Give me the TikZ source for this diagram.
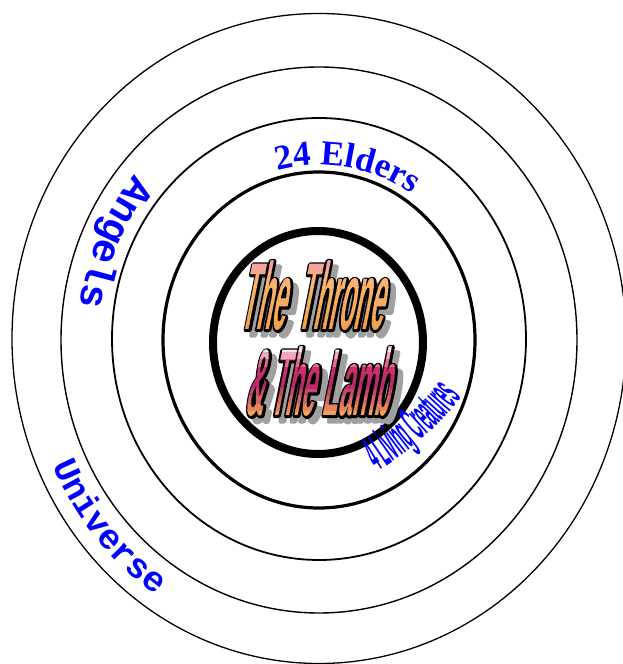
\documentclass[tikz,border=0pt]{standalone}
\usepackage{fontspec}
\usetikzlibrary{decorations.text}
\newfontfamily\thronefont{Liberation Sans}[FakeStretch=0.265,FakeSlant=0.2]
\newfontfamily\angelfont{Liberation Mono}
\newfontfamily\elderfont{Liberation Serif}
\newfontfamily\creafont{Liberation Sans}[FakeStretch=0.26]
\definecolor{pinkA}{HTML}{F4A0A8}
\definecolor{orA}{HTML}{FAB56C}
\definecolor{orB}{HTML}{F0A050}
\definecolor{pinkL}{HTML}{FFE4E4}
\definecolor{magA}{HTML}{D8306E}
\definecolor{magB}{HTML}{B82A6A}
\definecolor{orC}{HTML}{F2A25A}
\definecolor{shad}{HTML}{A0A0A0}
\tikzset{
  ring/.style={draw=black},
  thr/.style={font={\thronefont\bfseries\fontsize{95}{95}\selectfont},inner sep=0pt,anchor=base},
  lbl/.style={decorate,decoration={text along path,text align=center,text={#1}}}
}
\newcommand\lineA{The\hspace{12pt}Throne}
\newcommand\lineB{\&\hspace{6pt}The\hspace{8pt}Lamb}
\newcommand\strk[2]{\special{pdf:literal direct 1 j #1 w 2 Tr}#2\special{pdf:literal direct 0 Tr}}
\begin{document}
\begin{tikzpicture}[x=1pt,y=1pt]
\useasboundingbox (0,0) rectangle (623,664);
% rings
\draw[ring,line width=1.3] (319,325.5) ellipse [x radius=307,y radius=325];
\draw[ring,line width=1.4] (319,324) ellipse [x radius=258,y radius=273];
\draw[ring,line width=1.8] (319,325) ellipse [x radius=207,y radius=221];
\draw[ring,line width=3.2] (319,324) ellipse [x radius=156,y radius=168];
\draw[ring,line width=8] (318,321.5) ellipse [x radius=105,y radius=111.5];
% labels
\path[lbl={|\elderfont\bfseries\fontsize{35}{35}\selectfont\color{blue}|24 Elders}]
  ([shift={(319,324)}]110:168 and 175) arc[start angle=110,end angle=51,x radius=168,y radius=175];
\path[lbl={|\angelfont\bfseries\fontsize{40}{40}\selectfont\color{blue}|Angels}]
  ([shift={(319,324)}]135:241 and 255) arc[start angle=135,end angle=177,x radius=241,y radius=255];
\path[lbl={|\angelfont\bfseries\fontsize{35}{35}\selectfont\color{blue}|Universe}]
  ([shift={(319,324)}]200:291 and 308) arc[start angle=200,end angle=240,x radius=291,y radius=308];
\path[lbl={|\creafont\bfseries\fontsize{50}{50}\selectfont\color{blue}|4 Living Creatures}]
  (375,191) .. controls (405,208.5) and (443,240) .. (463,269);
% center text: shadow and outline
\node[thr,text=shad] (sA) at (316.5,328.5) {\strk{4.4}{\lineA}};
\node[thr,text=shad] (sB) at (322.5,242.5) {\strk{4.4}{\lineB}};
\node[thr,text=black] (oA) at (311,334) {\strk{4.4}{\lineA}};
\node[thr,text=black] (oB) at (317,248) {\strk{4.4}{\lineB}};
% gradient fill, line 1
\foreach \i in {0,...,9}{
  \pgfmathsetmacro\yb{332+\i*7.4}
  \pgfmathsetmacro\yt{\yb+8}
  \ifnum\i>6 \pgfmathtruncatemacro\p{(\i-6)*33}\def\cc{pinkA!\p!orA}\else\pgfmathtruncatemacro\p{\i*16}\def\cc{orA!\p!orB}\fi
  \begin{scope}
    \clip (200,\yb) rectangle (440,\yt);
    \node[thr,text=\cc] (fA\i) at (311,334) {\lineA};
  \end{scope}
}
% gradient fill, line 2
\foreach \i in {0,...,9}{
  \pgfmathsetmacro\yb{246+\i*7.4}
  \pgfmathsetmacro\yt{\yb+8}
  \ifnum\i>6 \pgfmathtruncatemacro\p{(\i-6)*33}\def\cc{pinkL!\p!magA}\else
    \ifnum\i>3 \pgfmathtruncatemacro\p{(\i-4)*33}\def\cc{magA!\p!magB}\else
      \pgfmathtruncatemacro\p{\i*25}\def\cc{magB!\p!orC}\fi\fi
  \begin{scope}
    \clip (200,\yb) rectangle (440,\yt);
    \node[thr,text=\cc] (fB\i) at (317,248) {\lineB};
  \end{scope}
}
\end{tikzpicture}
\end{document}
